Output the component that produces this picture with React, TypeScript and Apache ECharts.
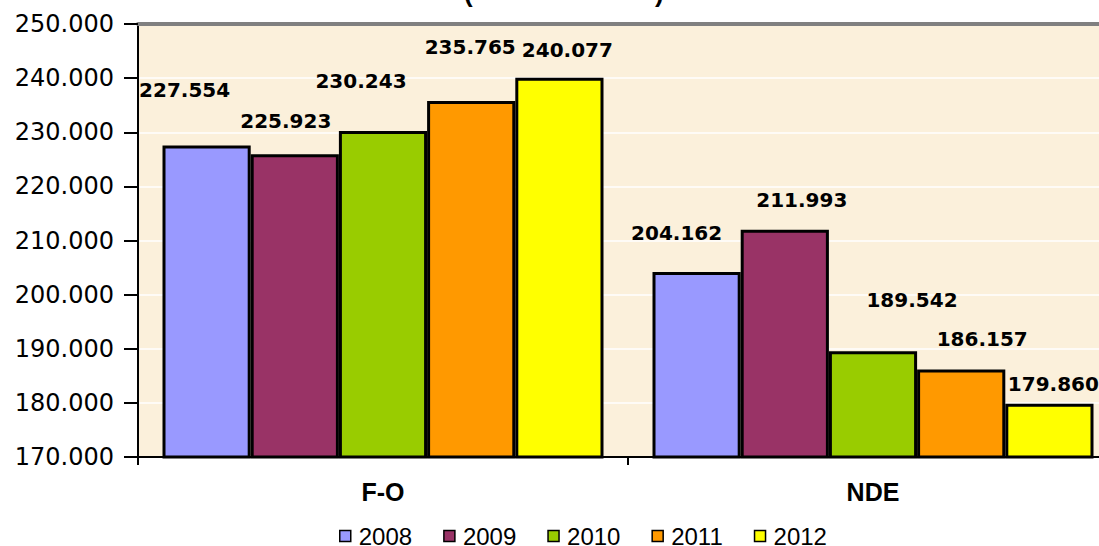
import React, { useEffect, useRef } from "react";
import * as echarts from "echarts";

const categories = ["F-O", "NDE"];
const years = ["2008", "2009", "2010", "2011", "2012"];
const values2008 = [227554, 204162];
const values2009 = [225923, 211993];
const values2010 = [230243, 189542];
const values2011 = [235765, 186157];
const values2012 = [240077, 179860];
const yTicks = [170000, 250000, 10000];

const colors = ["#9999FF", "#993366", "#99CC00", "#FF9900", "#FFFF00"];
// label offsets [dx, dy] per series per category (layout only)
const labelOffsets = [
  [[-22, -40], [-20, -24]],
  [[-9, -18], [17, -15]],
  [[-22, -35], [39, -36]],
  [[-1, -39], [21, -16]],
  [[8, -13], [4, -5]],
];

const fmt = (v: number) => {
  const s = Math.round(v).toString();
  const th = s.slice(-3);
  const rest = s.slice(0, -3);
  return rest ? rest + "." + th : th;
};

export default function App() {
  const ref = useRef<HTMLDivElement>(null);
  useEffect(() => {
    if (!ref.current) return;
    const chart = echarts.init(ref.current, null, { renderer: "svg" });
    const allValues = [values2008, values2009, values2010, values2011, values2012];
    const font = "'Liberation Sans', Arial, sans-serif";
    const wide = "'DejaVu Sans', sans-serif";
    chart.setOption({
      animation: false,
      textStyle: { fontFamily: font },
      grid: {
        left: 138,
        right: 0,
        top: 24,
        bottom: 89,
        show: true,
        backgroundColor: "#FBF0DB",
        borderWidth: 0,
      },
      legend: {
        data: years,
        left: 339,
        top: 524,
        padding: 0,
        itemWidth: 11,
        itemHeight: 11,
        itemGap: 31,
        icon: "rect",
        textStyle: { fontSize: 24, lineHeight: 20, color: "#000", fontFamily: font, padding: [0, 0, 0, 3] },
        itemStyle: { borderColor: "#000", borderWidth: 1.5 },
      },
      graphic: [
        { type: "text", left: 464, top: -20, style: { text: "(", fontSize: 26, fontWeight: "bold", fill: "#000", fontFamily: font } },
        { type: "text", left: 655, top: -20, style: { text: ")", fontSize: 26, fontWeight: "bold", fill: "#000", fontFamily: font } },
      ],
      xAxis: [
        {
          type: "category",
          data: categories,
          axisLine: { lineStyle: { color: "#000", width: 2 } },
          axisTick: { show: true, length: 8, lineStyle: { color: "#000", width: 2 } },
          axisLabel: { fontSize: 25, fontWeight: "bold", color: "#000", margin: 22, fontFamily: font },
        },
        {
          type: "category",
          data: categories,
          position: "top",
          axisLine: { lineStyle: { color: "#808080", width: 4 } },
          axisTick: { show: false },
          axisLabel: { show: false },
        },
      ],
      yAxis: {
        type: "value",
        min: yTicks[0],
        max: yTicks[1],
        interval: yTicks[2],
        axisLine: { show: true, lineStyle: { color: "#000", width: 2 } },
        axisTick: { show: true, length: 14, lineStyle: { color: "#000", width: 2 } },
        axisLabel: { formatter: fmt, fontSize: 24, color: "#000", margin: 24, fontFamily: wide },
        splitLine: { show: true, lineStyle: { color: "#FFFFFF", width: 1.5 } },
      },
      series: years.map((y, i) => ({
        name: y,
        type: "bar",
        barGap: "0%",
        barCategoryGap: "10%",
        itemStyle: { color: colors[i], borderColor: "#000", borderWidth: 3 },
        label: {
          show: true,
          position: "top",
          distance: 5,
          formatter: (p: any) => fmt(p.value),
          fontSize: 20,
          fontWeight: "bold",
          color: "#000",
          fontFamily: wide,
        },
        data: allValues[i].map((v, j) => ({
          value: v,
          label: { offset: labelOffsets[i][j] },
        })),
      })),
    });
    return () => chart.dispose();
  }, []);
  return (
    <div style={{ position: "fixed", left: 0, top: 0, width: 1099, height: 546, overflow: "hidden", background: "#fff" }}>
      <div ref={ref} style={{ width: 1118, height: 546 }} />
    </div>
  );
}
